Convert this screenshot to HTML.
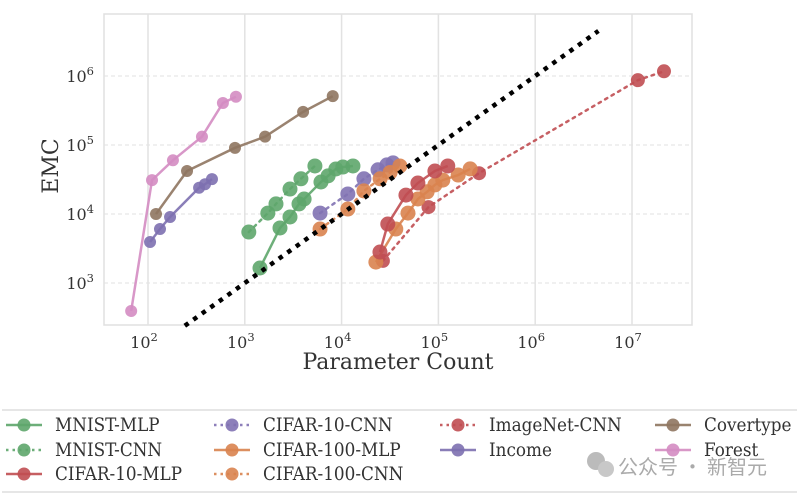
<!DOCTYPE html>
<html><head><meta charset="utf-8"><style>
html,body{margin:0;padding:0;background:#fff;}
svg text{font-family:"DejaVu Serif","Liberation Serif",serif;fill:#333;}
</style></head><body>
<svg id="chart" width="799" height="499" viewBox="0 0 799 499" xmlns="http://www.w3.org/2000/svg">
<rect x="104" y="14" width="588" height="311" fill="#fff" stroke="#e0e0e0" stroke-width="1.5"/>
<g id="grid"></g>
<g id="ticks"></g>
<g id="series"></g>
<text transform="translate(58,166) rotate(-90)" text-anchor="middle" font-size="22">EMC</text>
<text x="398" y="369" text-anchor="middle" font-size="22">Parameter Count</text>
<line x1="2" y1="410" x2="797" y2="410" stroke="#ddd" stroke-width="1.5"/>
<line x1="2" y1="492" x2="797" y2="492" stroke="#ddd" stroke-width="1.5"/>
<g id="legend"></g>
<g>
<circle cx="596" cy="461" r="9" fill="#bbb"/><circle cx="606" cy="469" r="8" fill="#c8c8c8"/>
<text x="618" y="474" font-size="20" style='font-family:"Noto Sans CJK SC",sans-serif;fill:#aaa'>公众号 · 新智元</text>
</g>
</svg>
<script>
const xTicks=[2,3,4,5,6,7];
const yTicks=[3,4,5,6];
const names=["MNIST-MLP","MNIST-CNN","CIFAR-10-MLP","CIFAR-10-CNN","CIFAR-100-MLP","CIFAR-100-CNN","ImageNet-CNN","Income","Covertype","Forest"];
const colors=["#5ea66b","#5ea66b","#c04e52","#8172b3","#d9834f","#d9834f","#c04e52","#7d70b0","#8f7660","#d48cc2"];
const dotted=[false,true,false,true,false,true,true,false,false,false];
const radii=[7.5,7.5,7.5,7.5,7.5,7.5,7,6,6,6];
const mnistMlpX=[1435,2310,2930,3630,4100,6120,7250,8720,10300,13100];
const mnistMlpY=[1650,6270,9060,14000,16500,29100,35700,44900,47900,49700];
const mnistCnnX=[1100,1730,2100,2930,3800,5300];
const mnistCnnY=[5480,10300,14000,23000,32400,49700];
const c10MlpX=[24900,30000,46200,61400,92000,125000];
const c10MlpY=[2810,7160,18800,28100,42000,49700];
const c10CnnX=[5990,11600,17000,23800,29400,34000];
const c10CnnY=[10300,19500,32400,43700,51500,55000];
const c100MlpX=[22600,36300,48500,61400,76500,92000,111000,160000,213000];
const c100MlpY=[2010,6060,10300,16500,21000,26400,31000,36700,45000];
const c100CnnX=[5990,11600,17000,25000,31700,40000];
const c100CnnY=[6060,11800,21600,32400,40000,49700];
const imagenetX=[26700,79000,263000,11500000,21400000];
const imagenetY=[2090,12600,39000,870000,1170000];
const incomeX=[105,133,169,337,388,458];
const incomeY=[3930,6060,9050,24000,27000,32000];
const covX=[121,253,792,1620,4000,8100];
const covY=[10000,42000,91000,132000,302000,510000];
const forestX=[67,110,181,361,594,810];
const forestY=[393,31000,60000,132000,406000,500000];
const refX=[240,4500000];
const refY=[240,4500000];
const seriesX=[mnistMlpX,mnistCnnX,c10MlpX,c10CnnX,c100MlpX,c100CnnX,imagenetX,incomeX,covX,forestX];
const seriesY=[mnistMlpY,mnistCnnY,c10MlpY,c10CnnY,c100MlpY,c100CnnY,imagenetY,incomeY,covY,forestY];
const NS="http://www.w3.org/2000/svg";
function sx(v){return 148+96.8*(Math.log10(v)-2);}
function sy(v){return 283-69*(Math.log10(v)-3);}
function mk(t,a,p){const e=document.createElementNS(NS,t);for(const k in a)e.setAttribute(k,a[k]);p.appendChild(e);return e;}
const grid=document.getElementById('grid'),ticks=document.getElementById('ticks'),ser=document.getElementById('series'),leg=document.getElementById('legend');
xTicks.forEach(t=>{const x=sx(Math.pow(10,t));
const l=mk('line',{x1:x,y1:14,x2:x,y2:325,stroke:'#e2e2e2','stroke-width':1.5},grid);


const tx=mk('text',{x:x-4,y:348,'text-anchor':'middle','font-size':16},ticks);


tx.innerHTML='10<tspan dy="-7" font-size="11.5">'+t+'</tspan>';});
yTicks.forEach(t=>{const y=sy(Math.pow(10,t));
const l=mk('line',{x1:104,y1:y,x2:692,y2:y,stroke:'#e2e2e2','stroke-width':1,'stroke-dasharray':'4,3'},grid);


const tx=mk('text',{x:94,y:y+6,'text-anchor':'end','font-size':16},ticks);


tx.innerHTML='10<tspan dy="-7" font-size="11.5">'+t+'</tspan>';});
const order=[6,9,8,7,3,5,0,1,4,2];
order.forEach(i=>{const g=mk('g',{},ser);


const pts=seriesX[i].map((v,j)=>sx(v)+','+sy(seriesY[i][j])).join(' ');
const pl=mk('polyline',{points:pts,fill:'none',stroke:colors[i],'stroke-width':2.5,'stroke-dasharray':dotted[i]?'2.5,5':'none','stroke-linecap':dotted[i]?'round':'butt',opacity:0.9},g);


seriesX[i].forEach((v,j)=>{const c=mk('circle',{cx:sx(v),cy:sy(seriesY[i][j]),r:radii[i],fill:colors[i],opacity:0.9},g);

});});
const rl=mk('line',{x1:sx(refX[0]),y1:sy(refY[0]),x2:sx(refX[1]),y2:sy(refY[1]),stroke:'#000','stroke-width':4.5,'stroke-dasharray':'4.5,6'},ser);


const legCols=[[0,1,2],[3,4,5],[6,7],[8,9]];
const colX=[6,214,440,655];
const rowY=[425,450,474];
legCols.forEach((col,ci)=>col.forEach((i,ri)=>{const g=mk('g',{},leg);


const x=colX[ci],y=rowY[ri];
mk('line',{x1:x,y1:y,x2:x+36,y2:y,stroke:colors[i],'stroke-width':2.5,'stroke-dasharray':dotted[i]?'2.5,4':'none',opacity:0.9},g);
mk('circle',{cx:x+18,cy:y,r:6.5,fill:colors[i],opacity:0.9},g);
const t=mk('text',{transform:'translate('+(x+49)+','+(y+6)+') scale(0.91,1)','font-size':18.5},g);
t.textContent=names[i];}));
</script>
</body></html>
